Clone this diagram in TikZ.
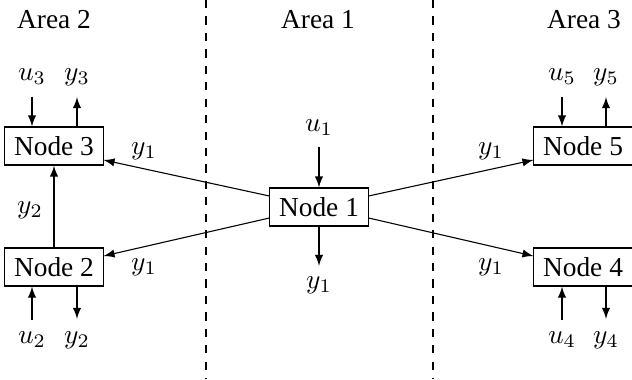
\documentclass[tikz,border=0pt]{standalone}
\usepackage[no-math]{fontspec}
\setmainfont{Liberation Serif}
\usetikzlibrary{calc}
\begin{document}
\begin{tikzpicture}[x=0.365pt,y=-0.365pt,>=latex,
  box/.style={draw,inner sep=3.33pt,minimum height=13.9pt},
  lbl/.style={inner sep=0pt},
  sep/.style={dashed}]
\useasboundingbox (0,0) rectangle (632,379);
% areas
\node[lbl] (a2) at (54,20) {Area 2};
\node[lbl] (a1) at (318,20) {Area 1};
\node[lbl] (a3) at (584,20) {Area 3};
\coordinate (d1t) at (206,0); \coordinate (d1b) at (206,379);
\coordinate (d2t) at (433,0); \coordinate (d2b) at (433,379);
\draw[sep] (d1t) -- (d1b);
\draw[sep] (d2t) -- (d2b);
% nodes
\node[box] (n1) at (319,207) {Node 1};
\node[box] (n3) at (54,146) {Node 3};
\node[box] (n2) at (54,267) {Node 2};
\node[box] (n5) at (583,146) {Node 5};
\node[box] (n4) at (583,267) {Node 4};
% node 1 io
\node[lbl] (u1) at (319,128) {$u_1$};
\node[lbl] (y1) at (319,285) {$y_1$};
\draw[->] ($(u1.south)+(0,10)$) -- (n1.north);
\draw[->] (n1.south) -- ($(y1.north)+(0,-10)$);
% node 3 io
\node[lbl] (u3) at (32,77) {$u_3$};
\node[lbl] (y3) at (77,77) {$y_3$};
\draw[->] ($(u3.south)+(0,11)$) -- (u3.south |- n3.north);
\draw[<-] ($(y3.south)+(0,11)$) -- (y3.south |- n3.north);
% node 2 io
\node[lbl] (u2) at (32,340) {$u_2$};
\node[lbl] (y2) at (77,340) {$y_2$};
\draw[->] ($(u2.north)+(0,-12)$) -- (u2.north |- n2.south);
\draw[<-] ($(y2.north)+(0,-12)$) -- (y2.north |- n2.south);
% node 5 io
\node[lbl] (u5) at (562,77) {$u_5$};
\node[lbl] (y5) at (606,77) {$y_5$};
\draw[->] ($(u5.south)+(0,11)$) -- (u5.south |- n5.north);
\draw[<-] ($(y5.south)+(0,11)$) -- (y5.south |- n5.north);
% node 4 io
\node[lbl] (u4) at (562,340) {$u_4$};
\node[lbl] (y4) at (606,340) {$y_4$};
\draw[->] ($(u4.north)+(0,-12)$) -- (u4.north |- n4.south);
\draw[<-] ($(y4.north)+(0,-12)$) -- (y4.north |- n4.south);
% node2 -> node3
\draw[->] (n2.north) -- (n3.south);
\node[lbl] (l23) at (30,210) {$y_2$};
% node1 -> others
\draw[->] ($(n1.west)+(0,-11)$) -- ($(n3.east)+(0,14)$);
\draw[->] ($(n1.west)+(0,11)$) -- ($(n2.east)+(0,-11)$);
\draw[->] ($(n1.east)+(0,-11)$) -- ($(n5.west)+(0,14)$);
\draw[->] ($(n1.east)+(0,11)$) -- ($(n4.west)+(0,-11)$);
\node[lbl] (l13) at (144,151) {$y_1$};
\node[lbl] (l12) at (144,267) {$y_1$};
\node[lbl] (l15) at (491,151) {$y_1$};
\node[lbl] (l14) at (491,267) {$y_1$};
\end{tikzpicture}
\end{document}
